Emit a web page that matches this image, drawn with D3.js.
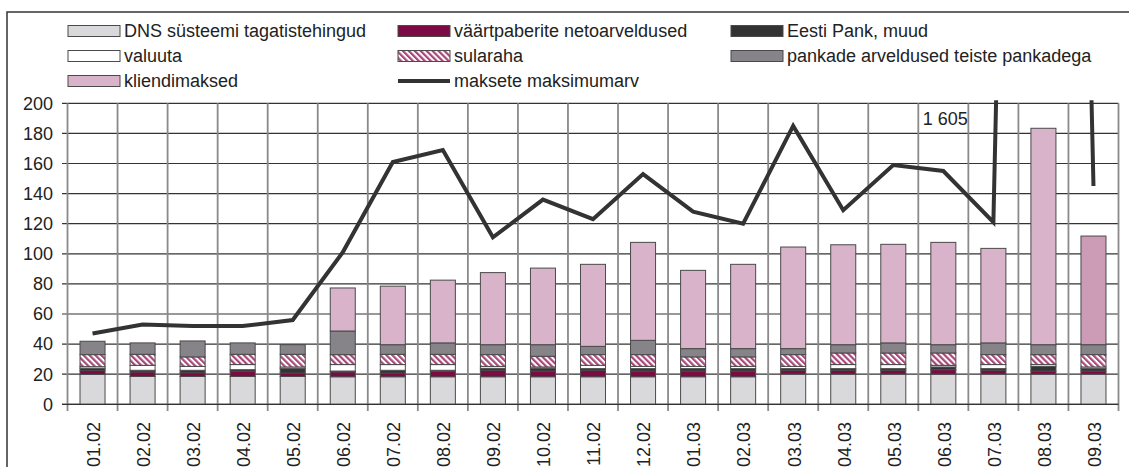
<!DOCTYPE html>
<html><head><meta charset="utf-8">
<script src="https://cdn.jsdelivr.net/npm/d3@7"></script>
<style>
html,body{margin:0;padding:0;background:#fff;}
svg{display:block;font-family:"Liberation Sans",Arial,sans-serif;}
</style></head>
<body>
<svg id="c" width="1129" height="467"></svg>
<script>
const categories = ["01.02","02.02","03.02","04.02","05.02","06.02","07.02","08.02","09.02","10.02","11.02","12.02","01.03","02.03","03.03","04.03","05.03","06.03","07.03","08.03","09.03"];
const dnsTagatis   = [19.8,18.5,18.5,18.5,18.5,18.3,18.3,18.3,18.3,18.3,18.3,18.3,18.3,18.3,20,20,20,20,20,20,20];
const vaartpaberid = [2.6,3.0,2.5,3.4,2.3,3.2,2.5,3.6,4.3,3.8,4.3,3.8,3.8,3.8,2.6,2.6,2.6,3.0,2.6,2.1,2.1];
const eestiPank    = [1.5,1.1,1.6,1.1,2.9,0.6,1.8,0.7,1.3,1.8,1.1,1.6,1.6,1.6,1.1,1.1,1.1,1.8,1.1,3.1,1.6];
const valuuta      = [1.1,3.3,2.6,3.4,1.1,4.3,3.8,3.8,1.3,0.9,2.2,1.5,1.5,1.5,1.5,2.7,2.7,1.1,2.7,1.2,1.1];
const sularaha     = [8.0,7.3,6.3,6.8,8.4,6.6,6.8,6.8,7.8,7.1,7.1,7.8,6.3,6.3,7.8,7.7,7.7,8.2,6.6,6.6,8.2];
const pankadeArv   = [8.9,7.6,10.6,7.6,6.4,15.7,6.4,7.6,6.6,7.7,5.5,9.5,5.5,5.5,4.0,5.5,6.7,5.5,7.8,6.6,6.6];
const kliendimaksed= [0,0,0,0,0,28.6,38.9,41.7,47.9,50.9,54.5,65.1,52,56,67.5,66.4,65.5,68,62.8,143.8,72.2];
const maksimumarv  = [47,53,52,52,56,101,161,169,111,136,123,153,128,120,185,129,159,155,121,1605,145];
const yTicks = [0,20,40,60,80,100,120,140,160,180,200];
const seriesNames = ["DNS süsteemi tagatistehingud","väärtpaberite netoarveldused","Eesti Pank, muud","valuuta","sularaha","pankade arveldused teiste pankadega","kliendimaksed"];
const lineName = "maksete maksimumarv";
const annotationText = "1 605";

const seriesData = [dnsTagatis,vaartpaberid,eestiPank,valuuta,sularaha,pankadeArv,kliendimaksed];
const fills = ["#d9d9db","#7c0a45","#333333","#ffffff","url(#hatch)","#868389","#d8b3c9"];
const FS = 18;

const svg = d3.select("#c");
const defs = svg.append("defs");
const pat = defs.append("pattern").attr("id","hatch").attr("patternUnits","userSpaceOnUse")
  .attr("width",4.2).attr("height",4.2).attr("patternTransform","rotate(-45)");
pat.append("rect").attr("width",4.2).attr("height",4.2).attr("fill","#fff");
pat.append("rect").attr("width",2.2).attr("height",4.2).attr("fill","#a8487a");

const X0 = 67.5, X1 = 1118.5, Y0 = 404.3, Y1 = 103.3;
const x = d3.scaleBand().domain(categories).range([X0,X1]).paddingInner(0.5).paddingOuter(0.25);
const step = (X1-X0)/categories.length;
const y = d3.scaleLinear().domain([0,200]).range([Y0,Y1]);

// outer border
svg.append("rect").attr("x",7).attr("y",12).attr("width",1300).attr("height",600)
  .attr("fill","none").attr("stroke","#333").attr("stroke-width",1.5);

// horizontal gridlines + y ticks
const g = svg.append("g");
g.selectAll("line.h").data(yTicks).join("line")
  .attr("x1",62).attr("x2",X1).attr("y1",d=>y(d)).attr("y2",d=>y(d))
  .attr("stroke","#333").attr("stroke-width",1.2);
g.selectAll("text.yt").data(yTicks).join("text")
  .attr("x",53).attr("y",d=>y(d)).attr("dy","0.35em").attr("text-anchor","end")
  .attr("font-size",FS).attr("fill","#222").text(d=>d);

// vertical gridlines at category boundaries
const bounds = d3.range(categories.length+1).map(i=>X0+i*step);
g.selectAll("line.v").data(bounds).join("line")
  .attr("x1",d=>d).attr("x2",d=>d).attr("y1",Y1).attr("y2",411)
  .attr("stroke","#8a8a8a").attr("stroke-width",1.8);

// stacked bars
const rows = categories.map((c,i)=>{ const o={cat:c}; seriesData.forEach((s,k)=>o["s"+k]=s[i]); return o;});
const stack = d3.stack().keys(seriesData.map((s,k)=>"s"+k));
const stacked = stack(rows);
stacked.forEach((layer,k)=>{
  svg.append("g").selectAll("rect").data(layer).join("rect")
    .attr("x",d=>x(d.data.cat)).attr("width",x.bandwidth())
    .attr("y",d=>y(d[1])).attr("height",d=>Math.max(0,y(d[0])-y(d[1])))
    .attr("fill",(d,i)=> (k===6 && i===categories.length-1) ? "#cc9bb5" : fills[k])
    .attr("stroke","#4a4a4a").attr("stroke-width",1)
    .attr("display",d=>d[1]-d[0]>0?null:"none");
});

// baseline axis line
svg.append("line").attr("x1",62).attr("x2",X1).attr("y1",Y0).attr("y2",Y0).attr("stroke","#333").attr("stroke-width",1.2);

// line
defs.append("clipPath").attr("id","clip").append("rect").attr("x",X0).attr("y",Y1-3).attr("width",X1-X0).attr("height",Y0-Y1+3);
const line = d3.line().x((d,i)=>x(categories[i])+x.bandwidth()/2).y(d=>y(d));
svg.append("path").datum(maksimumarv).attr("d",line).attr("fill","none")
  .attr("stroke","#333").attr("stroke-width",4).attr("stroke-linejoin","miter").attr("clip-path","url(#clip)");

// annotation
svg.append("text").attr("x",x("06.03")-8).attr("y",125).attr("font-size",FS).attr("fill","#222").text(annotationText);

// x labels
svg.append("g").selectAll("text").data(categories).join("text")
  .attr("transform",d=>`translate(${x(d)+x.bandwidth()/2+1},422) rotate(-90)`)
  .attr("text-anchor","end").attr("dy","0.35em").attr("font-size",FS).attr("fill","#222").text(d=>d);

// legend
const legItems = seriesNames.map((n,k)=>({name:n,k:k})).concat([{name:lineName,k:-1}]);
const colX = [68,398,731], rowY = [31,56,81];
const lg = svg.append("g");
legItems.forEach((it,i)=>{
  const cx = colX[i%3], cy = rowY[Math.floor(i/3)];
  if(it.k>=0){
    lg.append("rect").attr("x",cx).attr("y",cy-5.5).attr("width",52).attr("height",11)
      .attr("fill",fills[it.k]).attr("stroke","#4a4a4a").attr("stroke-width",1);
  } else {
    lg.append("line").attr("x1",cx).attr("x2",cx+52).attr("y1",cy).attr("y2",cy).attr("stroke","#333").attr("stroke-width",4);
  }
  lg.append("text").attr("x",cx+56).attr("y",cy).attr("dy","0.35em").attr("font-size",FS).attr("fill","#222").text(it.name);
});
</script>
</body></html>
